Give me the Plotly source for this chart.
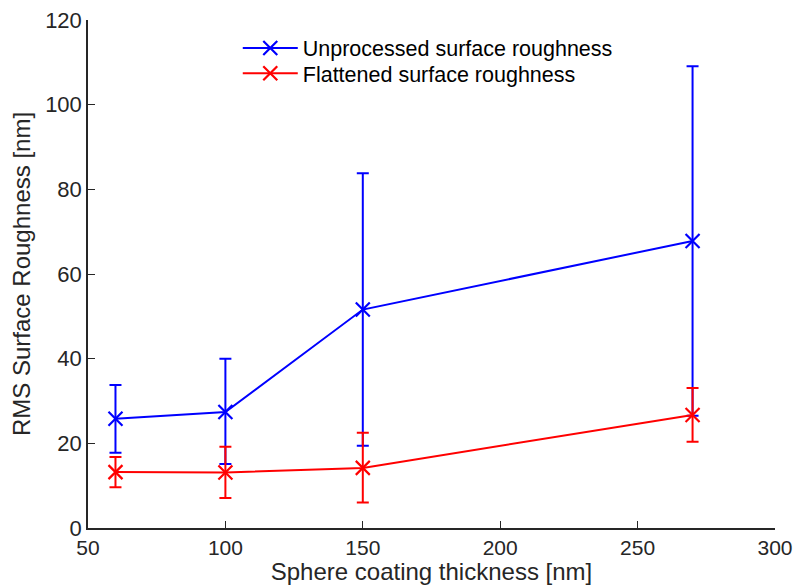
import plotly.graph_objects as go

thickness = [60, 100, 150, 270]
unprocessed = [25.8, 27.4, 51.6, 67.8]
unprocessed_err_plus = [8.0, 12.6, 32.2, 41.3]
unprocessed_err_minus = [8.0, 12.3, 32.2, 41.3]
flattened = [13.2, 13.1, 14.2, 26.7]
flattened_err_plus = [3.6, 6.1, 8.3, 6.4]
flattened_err_minus = [3.6, 6.0, 8.2, 6.3]

font = "Liberation Sans, Arial, Helvetica, sans-serif"

fig = go.Figure()
fig.add_trace(go.Scatter(
    x=thickness, y=unprocessed, name="Unprocessed surface roughness",
    mode="lines+markers", legend="legend",
    line=dict(color="#0000ff", width=2),
    marker=dict(symbol="x-thin", size=14, line=dict(color="#0000ff", width=2.2), color="#0000ff"),
    error_y=dict(type="data", array=unprocessed_err_plus, arrayminus=unprocessed_err_minus,
                 symmetric=False, color="#0000ff", thickness=2, width=6),
))
fig.add_trace(go.Scatter(
    x=thickness, y=flattened, name="Flattened surface roughness",
    mode="lines+markers", legend="legend2",
    line=dict(color="#ff0000", width=2),
    marker=dict(symbol="x-thin", size=14, line=dict(color="#ff0000", width=2.2), color="#ff0000"),
    error_y=dict(type="data", array=flattened_err_plus, arrayminus=flattened_err_minus,
                 symmetric=False, color="#ff0000", thickness=2, width=6),
))

legend_common = dict(x=0.218, xanchor="left", yanchor="middle",
                     bgcolor="rgba(255,255,255,0)", font=dict(size=21.5, color="black"),
                     tracegroupgap=0, itemwidth=55)

fig.update_layout(
    width=795, height=585,
    margin=dict(l=88, r=20, t=20, b=57, autoexpand=False),
    paper_bgcolor="white", plot_bgcolor="white",
    font=dict(family=font, size=22, color="#262626"),
    showlegend=True,
    legend=dict(y=0.945, **legend_common),
    legend2=dict(y=0.895, **legend_common),
    xaxis=dict(range=[50, 300], tickvals=[50, 100, 150, 200, 250, 300],
               showgrid=False, zeroline=False, showline=True, linecolor="#262626", linewidth=1.5,
               ticks="inside", ticklen=7, tickcolor="#262626", tickwidth=1.2, automargin=False,
               title=dict(text="Sphere coating thickness [nm]", font=dict(size=24), standoff=2),
               tickfont=dict(size=21)),
    yaxis=dict(range=[0, 120], tickvals=[0, 20, 40, 60, 80, 100, 120],
               showgrid=False, zeroline=False, showline=True, linecolor="#262626", linewidth=1.5,
               ticks="inside", ticklen=7, tickcolor="#262626", tickwidth=1.2, automargin=False,
               title=dict(text="RMS Surface Roughness [nm]", font=dict(size=24), standoff=8),
               tickfont=dict(size=22)),
)

fig.write_html("out.html")
